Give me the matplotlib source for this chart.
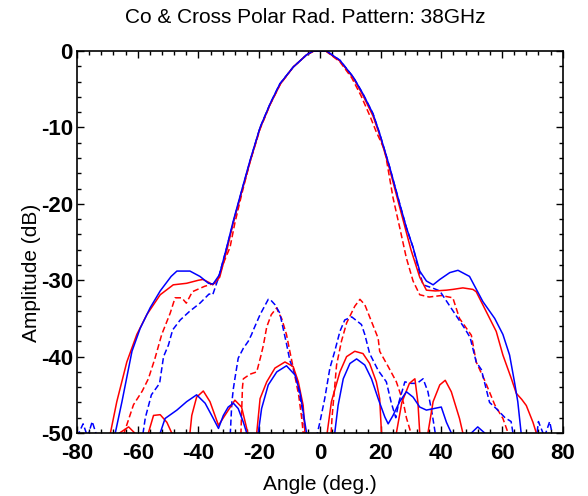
import numpy as np
import matplotlib
matplotlib.use("Agg")
import matplotlib.pyplot as plt
from matplotlib.ticker import MultipleLocator

# Co-polar, solid blue
co_blue_ang = [-69, -67.4, -65.2, -61.9, -59.2, -55.9, -52.6, -49, -47.1, -42.8, -39.5, -36.7, -35.2,
               -33.1, -30.7, -28.5, -25.8, -23, -19.7, -16.4, -13.2, -8.8, -4.4, -2.2, 2.2, 6.6, 11,
               14.2, 17.5, 19.7, 23, 26.3, 28.5, 30.7, 32.9, 35.1, 37.3, 39.5, 42.8, 45.5, 49.3, 53.7,
               57.6, 60.3, 62.5, 64.1, 65.2, 66.3, 67.5]
co_blue_db = [-55, -50, -45.9, -39.3, -36.3, -33.6, -31.4, -29.5, -28.8, -28.8, -29.5, -30.4, -30.5,
              -29.3, -25.7, -22.2, -18.3, -14.3, -10, -6.9, -4.3, -2.1, -0.5, 0, 0, -1.2, -3.4,
              -5.6, -8.2, -10.8, -15.2, -20, -23.1, -25.7, -28.8, -30.1, -30.6, -29.9, -29, -28.7, -29.5, -32.8,
              -35, -37.1, -39.8, -43.3, -45.9, -50, -55]

# Co-polar, solid red
co_red_ang = [-71, -69, -66.9, -63.6, -60.3, -57, -52.6, -48.3, -43.9, -40, -38.5, -36.5, -35.3, -33,
              -30.6, -28.5, -25.8, -23, -19.8, -16.4, -13, -8.8, -4.4, -2, 2, 6.6, 11, 14.2, 17.5,
              19.7, 23, 26, 28, 30, 32.9, 35.1, 38, 41.7, 43.8, 47.1, 50.4, 51.5, 54.8, 58.1, 60.3,
              63.1, 64.7, 66.5, 68, 70.2, 71.3, 72.5]
co_red_db = [-55, -50, -45.9, -40.7, -37.1, -34.5, -31.9, -30.6, -30.4, -30, -29.9, -30.3, -30.6, -29.6,
             -26, -22.4, -18.5, -14.5, -10.2, -7, -4.3, -2.1, -0.5, 0, 0, -1.3, -3.5, -5.8, -8.5,
             -11, -15.5, -20, -23, -26, -29.6, -31.3, -31.4, -31.3, -31.2, -31, -31.2, -31.5, -34.1, -36.7, -39.8,
             -42.9, -44.8, -45.6, -46.4, -48.6, -50, -55]

# Co-polar, dashed blue
co_blue_dash_ang = [-80, -78, -76.5, -75, -73, -71, -59, -57.5, -55.5, -52.8, -51.5, -49.9, -48.5, -46,
                    -43, -39.5, -36.5, -35.3, -33.5, -31, -28.5, -25.8, -23, -19.7, -16.4, -13.2, -8.8,
                    -4.4, -2.2, 2.2, 6.6, 11, 14.2, 17.5, 19.7, 23, 26.3, 28.5, 30.7, 32, 34, 37, 39.5,
                    43, 45.5, 47.7, 49.5, 51.5, 53.2, 55.9, 58.1, 61, 63, 63.6, 64.5, 70, 72, 74,
                    75.7, 77]
co_blue_dash_db = [-50.5, -48.8, -50.5, -48.5, -51, -56, -52, -48, -45, -43.5, -40, -38.5, -36.5, -35.2,
                   -34.1, -33, -31.8, -31.9, -29.8, -26.2, -22.4, -18.4, -14.4, -10, -6.9, -4.3, -2.1,
                   -0.5, 0, 0, -1.2, -3.4, -5.6, -8.2, -10.8, -15.2, -20, -23.1, -25.7, -27.8, -30.6, -31, -31.4,
                   -33.5, -35, -36.3, -37.5, -40.7, -41.7, -46, -46.8, -48, -48.5, -50, -55, -55, -48.5, -50.5,
                   -48.5, -51]

# Co-polar, dashed red
co_red_dash_ang = [-66, -64.5, -61.4, -58.5, -56.5, -54.3, -52.1, -50.4, -49.3, -47.7, -45.5, -44, -42,
                   -38, -34, -31.5, -29.6, -28, -25.6, -23, -19.7, -16.4, -13, -8.8, -4.4, -2, 2, 6.6,
                   10.5, 13.5, 16.5, 18.5, 21.4, 24.1, 26.3, 28.5, 30.7, 32.9, 36, 40, 43.8, 46, 49.9,
                   51.5, 54.5, 57.6, 60.3, 62, 63]
co_red_dash_db = [-55, -50, -46.3, -44.5, -42.9, -40.2, -37.1, -35.4, -34.3, -32.3, -32.3, -33, -31.5,
                  -30.8, -30.3, -27.5, -25.7, -22.5, -18.5, -14.5, -10.2, -7, -4.3, -2.1, -0.5, 0, 0, -1.4,
                  -3.5, -5.8, -8.5, -10.5, -13, -19.2, -23.1, -27.1, -30.1, -31.9, -32.2, -32, -32.3, -35, -37.2,
                  -40.7, -43.3, -46.3, -48.1, -50, -55]

# Cross-polar, solid blue
xp_blue_ang = [-54, -52.6, -51, -47.1, -43.9, -40.6, -37.8, -35.1, -33.4, -31.8, -30.2, -28.5, -26.9,
               -25.2, -24.1, -22, -20.3, -19.2, -17, -14.2, -11, -8.2, -6.6, -5.5, -4.4, -3.5, 4, 4.9,
               6, 7.7, 9.9, 12.1, 14.8, 17, 19.2, 21.4, 22.5, 24.1, 26.3, 28.5, 30.7, 32.9, 35.1, 40,
               41.7, 43.3, 45, 49.9, 52, 54.3, 55.5]
xp_blue_db = [-55, -50, -48.1, -47, -45.9, -45, -46.1, -48.1, -49.4, -47.7, -46.6, -46.1, -46.8,
              -48.6, -50, -56, -50, -46.8, -43.7, -42, -41.2, -42.4, -44.6, -47.2, -50, -55, -55, -50,
              -46.4, -42.9, -40.9, -40.3, -41.1, -42.9, -45.5, -47.9, -48.8, -47.7, -45.9, -44.6, -45.3, -46.6, -47, -46.6,
              -48.6, -50, -56, -50, -49.2, -50, -55]

# Cross-polar, solid red
xp_red_ang = [-67, -66, -63, -61, -59, -56.5, -54.8, -52.6, -50.4, -48.8, -46, -42.8, -42.2, -40.6,
              -38.4, -36.2, -33.4, -31.3, -28, -25.8, -24.1, -23.8, -22, -20.8, -19.7, -17.5, -14.8,
              -11.5, -8.8, -7.1, -5.5, -4.9, -4, 1.5, 2.4, 3.8, 6.6, 8.8, 11.5, 14.2, 16.4, 18.6,
              19.7, 20.3, 21, 24.5, 25.2, 27, 29.5, 31.3, 32.3, 32.9, 33.8, 35, 35.6, 37.3, 39.5,
              41.3, 43.3, 46, 47.1, 48]
xp_red_db = [-55, -50, -49.2, -50, -55, -50, -47.7, -47.6, -48.6, -50, -56, -50, -47.7, -45.3,
             -44.5, -45.9, -49, -47.7, -45.7, -46.6, -49.4, -50, -55, -50, -45.5, -43.3, -41.5,
             -40.7, -41.3, -43.3, -46.4, -50, -55, -55, -50, -45.9, -42, -40, -39.3, -39.6, -40.9, -43.3,
             -45.5, -50, -55, -55, -50, -46, -43.5, -42.9, -46, -50, -55, -55, -50, -45.9, -43.7,
             -43.1, -44.6, -48.1, -50, -55]

# Cross-polar, dashed blue
xp_blue_dash_ang = [-31, -29.5, -29, -28.5, -28, -26.9, -25.2, -23.6, -22.5, -21.9, -19.7, -17, -16.4,
                    -14.8, -13.2, -12.1, -11, -9.9, -7.7, -5.7, -4.8, -4, -2, 0, 1.6, 3.3, 4.9, 6.6,
                    8.2, 10.5, 13.7, 14.8, 16.4, 19.2, 21.9, 23.5, 25, 26, 28, 30, 32, 34, 35.6, 37,
                    38, 39]
xp_blue_dash_db = [-55, -50, -46, -44.2, -42.9, -40.2, -38.9, -38, -37.1, -36.5, -34.5, -32.5, -32.5,
                   -33.2, -34.3, -36.3, -38.3, -40.5, -42.8, -47, -50, -55, -52, -48.6, -45.5, -41.5, -39.3, -36.7,
                   -35.2, -34.8, -35.8, -37.1, -39.6, -41.8, -43.3, -46, -48, -46, -43.3, -43.5, -43.5, -42.9, -44.6, -47.5,
                   -50, -55]

# Cross-polar, dashed red
xp_red_dash_ang = [-27, -26, -25.5, -25.2, -23, -20.8, -19.5, -18.6, -17.5, -16, -14.2, -13.7, -12.6,
                   -11, -9.9, -8.5, -7, -6, -5.5, -4.5, 3, 4, 5.5, 7.1, 8.8, 11.5, 13.2, 14.8, 17,
                   19.2, 19.7, 22.5, 25.2, 26.3, 27.5, 28.5, 30, 31]
xp_red_dash_db = [-55, -50, -44, -42.9, -42.3, -42, -40, -38.5, -36.1, -34.5, -33.6, -34.2, -35,
                  -37.1, -39.3, -42, -45, -48, -50, -55, -55, -48, -41.1, -38, -35.6, -33.4, -32.5, -33.2, -35.4,
                  -37.6, -39.3, -41.3, -43.3, -44.6, -46, -48, -50, -55]

RED = "#ff0000"
BLUE = "#0000ff"

plt.rcParams["font.family"] = ["Liberation Sans", "DejaVu Sans"]
plt.rcParams["axes.unicode_minus"] = False

fig = plt.figure(figsize=(5.88, 4.96), dpi=100)
ax = fig.add_axes([0.131, 0.127, 0.826, 0.770])

lw = 1.1
dash = (4, 2)
ax.plot(xp_red_dash_ang, xp_red_dash_db, color=RED, lw=lw, dashes=dash)
ax.plot(xp_blue_dash_ang, xp_blue_dash_db, color=BLUE, lw=lw, dashes=dash)
ax.plot(xp_red_ang, xp_red_db, color=RED, lw=lw)
ax.plot(xp_blue_ang, xp_blue_db, color=BLUE, lw=lw)
ax.plot(co_red_dash_ang, co_red_dash_db, color=RED, lw=lw, dashes=dash)
ax.plot(co_blue_dash_ang, co_blue_dash_db, color=BLUE, lw=lw, dashes=dash)
ax.plot(co_red_ang, co_red_db, color=RED, lw=lw)
ax.plot(co_blue_ang, co_blue_db, color=BLUE, lw=lw)

ax.set_xlim(-80, 80)
ax.set_ylim(-50, 0)
ax.xaxis.set_major_locator(MultipleLocator(20))
ax.xaxis.set_minor_locator(MultipleLocator(4))
ax.yaxis.set_major_locator(MultipleLocator(10))
ax.yaxis.set_minor_locator(MultipleLocator(2))
ax.tick_params(which="both", direction="in", top=True, right=True, width=1.0, color="black")
ax.tick_params(which="major", length=5)
ax.tick_params(which="minor", length=3)
ax.tick_params(axis="x", pad=7)
ax.tick_params(axis="y", pad=3)
for lab in ax.get_xticklabels() + ax.get_yticklabels():
    lab.set_fontsize(16)
    lab.set_fontweight("bold")
for s in ax.spines.values():
    s.set_linewidth(1.2)

fig.text(0.519, 0.964, "Co & Cross Polar Rad. Pattern: 38GHz", ha="center", va="center", fontsize=15)
fig.text(0.544, 0.024, "Angle (deg.)", ha="center", va="center", fontsize=15)
fig.text(0.054, 0.45, "Amplitude (dB)", ha="center", va="center", rotation=90, fontsize=15)

fig.savefig("out.png", dpi=100)
